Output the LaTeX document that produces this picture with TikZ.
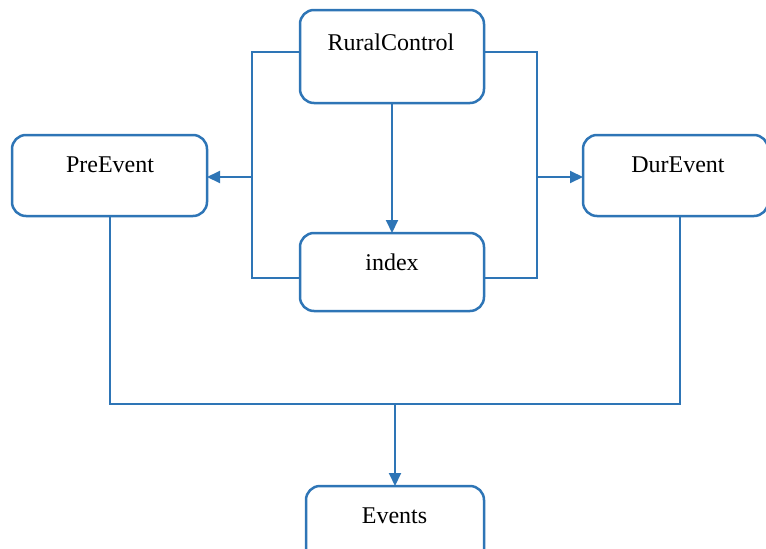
\documentclass[tikz,border=0pt]{standalone}
\usepackage{fontspec}
\setmainfont{Liberation Serif}
\usetikzlibrary{arrows.meta}
\definecolor{lblue}{HTML}{2E75B6}
\begin{document}
\begin{tikzpicture}[x=1pt,y=-1pt,
  box/.style={draw=lblue, line width=2.5pt, rounded corners=14pt, inner sep=0pt, outer sep=0pt, fill=white},
  lbl/.style={anchor=base, inner sep=0pt, font=\fontsize{24}{28}\selectfont, text=black},
  conn/.style={draw=lblue, line width=2pt},
  arr/.style={conn, -{Triangle[length=13pt,width=12pt]}}]
\useasboundingbox (0,0) rectangle (766,549);
\clip (0,0) rectangle (766,549);
\node[box, minimum width=184pt, minimum height=93pt] (RC) at (392,56.5) {};
\node[box, minimum width=195pt, minimum height=81pt] (Pre) at (109.5,175.5) {};
\node[box, minimum width=185pt, minimum height=81pt] (Dur) at (675.5,175.5) {};
\node[box, minimum width=184pt, minimum height=78pt] (idx) at (392,272) {};
\node[box, minimum width=178pt, minimum height=78pt] (Ev) at (395,525) {};
\node[lbl] (tRC) at (391,50) {RuralControl};
\node[lbl] (tPre) at (110,172) {PreEvent};
\node[lbl] (tDur) at (678,172) {DurEvent};
\node[lbl] (tidx) at (392,270) {index};
\node[lbl] (tEv) at (394.5,523) {Events};
\coordinate (lt) at (252,52);
\coordinate (lb) at (252,278);
\coordinate (rt) at (537,52);
\coordinate (rb) at (537,278);
\coordinate (la) at (252,177);
\coordinate (ra) at (537,177);
\coordinate (db) at (680,404);
\coordinate (jb) at (395,404);
\draw[conn] (lt -| RC.west) -- (lt) -- (lb) -- (lb -| idx.west);
\draw[conn] (rt -| RC.east) -- (rt) -- (rb) -- (rb -| idx.east);
\draw[arr] (la) -- (la -| Pre.east);
\draw[arr] (ra) -- (ra -| Dur.west);
\draw[arr] (RC.south) -- (idx.north);
\draw[conn] (Pre.south) |- (db) -- (db |- Dur.south);
\draw[arr] (jb) -- (Ev.north);
\end{tikzpicture}
\end{document}
